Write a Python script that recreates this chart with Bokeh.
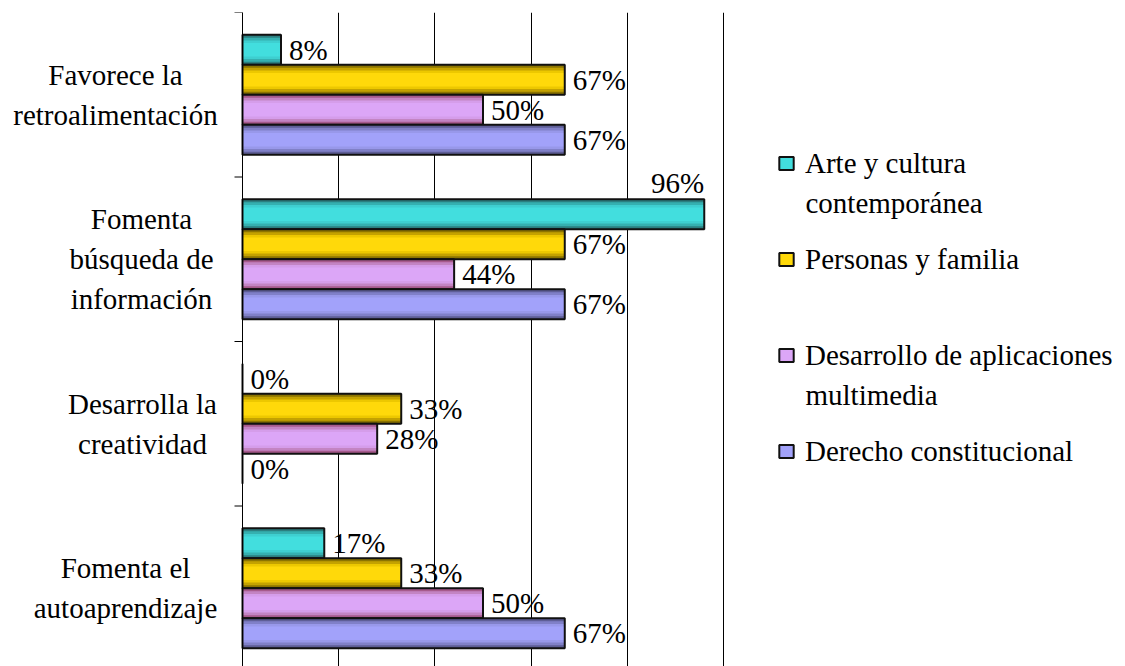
from bokeh.plotting import figure
from bokeh.models import Range1d, FixedTicker, Legend, LegendItem, ColumnDataSource, Span
from bokeh.core.properties import value
from bokeh.embed import file_html
from bokeh.resources import INLINE

# ---------------- data ----------------
categories = ["Favorece la\nretroalimentación",
              "Fomenta\nbúsqueda de\ninformación",
              "Desarrolla la\ncreatividad",
              "Fomenta el\nautoaprendizaje"]
series = ["Arte y cultura\ncontemporánea",
          "Personas y familia",
          "Desarrollo de aplicaciones\nmultimedia",
          "Derecho constitucional"]
arte = [8, 96, 0, 17]
personas = [67, 67, 33, 33]
desarrollo = [50, 44, 28, 50]
derecho = [67, 67, 0, 67]
x_ticks = [0, 20, 40, 60, 80, 100]

# ---------------- style ----------------
FONT = "'Liberation Serif', 'Times New Roman', serif"
FS = "29px"
shades = [
    ["#2B7F80", "#35B0B0", "#3ECFD0", "#42DEDE"],
    ["#8C7400", "#C4A200", "#EDC800", "#FFD90A"],
    ["#A65A8C", "#C384C3", "#D59DEA", "#DCA6F7"],
    ["#5E5E96", "#8080C8", "#9898EA", "#A2A2FA"],
]
fracs = [1.0, 0.8, 0.62, 0.45]
offsets = [-0.273, -0.091, 0.091, 0.273]
bar_h = 0.182
W, H = 1125, 666
axis_px = 242          # screen x of the value axis origin
ppu = 4.81             # pixels per percentage point
top_px = 12
band_px = 164.5
label_dx = [-127, -101, -100, -117]   # screen offset of each category label block centre
leg_x, leg_text_x = 777, 805
leg_item_px = 96
leg_first_cy = 163
leg_label_h = 36
leg_line_px = 39

x0 = -axis_px / ppu
x1 = (W - axis_px) / ppu
y_top = -0.5
y_bot = -0.5 + (H - top_px) / band_px

p = figure(width=W, height=H, x_range=Range1d(x0, x1), y_range=Range1d(y_bot, y_top),
           output_backend="svg", toolbar_location=None,
           x_axis_location=None, y_axis_location=None,
           min_border_left=0, min_border_right=0, min_border_top=top_px, min_border_bottom=0)
p.outline_line_color = None
p.background_fill_color = "white"
p.xgrid.ticker = FixedTicker(ticks=x_ticks)
p.xgrid.grid_line_color = "black"
p.xgrid.grid_line_width = 1
p.ygrid.visible = False

# category axis line and boundary ticks
p.add_layout(Span(location=0, dimension="height", line_color="black", line_width=1))
bounds = [i - 0.5 for i in range(len(categories) + 1)]
p.segment(x0=[0] * len(bounds), x1=[-8 / ppu] * len(bounds), y0=bounds, y1=bounds,
          line_color="black", line_width=1)

series_values = [arte, personas, desarrollo, derecho]
items = []
norm = dict(x=[], y=[], t=[])
over = dict(x=[], y=[], t=[])
for j, (name, vals) in enumerate(zip(series, series_values)):
    ys = [i + offsets[j] for i in range(len(categories))]
    src = ColumnDataSource(dict(y=ys, v=vals))
    last = None
    for frac, col in zip(fracs, shades[j]):
        last = p.hbar(y="y", right="v", left=0, height=bar_h * frac, fill_color=col,
                      line_color=None, source=src)
    outline = p.hbar(y="y", right="v", left=0, height=bar_h, fill_color=None,
                     line_color="#111111", line_width=2, source=src)
    items.append(LegendItem(label=name.split("\n")[0], renderers=[last, outline]))
    for yy, v in zip(ys, vals):
        if v > 88:
            over["x"].append(v); over["y"].append(yy - bar_h / 2); over["t"].append(f"{v}%")
        else:
            norm["x"].append(v); norm["y"].append(yy); norm["t"].append(f"{v}%")

p.text(x="x", y="y", text="t", source=ColumnDataSource(norm), x_offset=8,
       text_align="left", text_baseline="middle", text_color="black",
       text_font=value(FONT), text_font_size=value(FS))
p.text(x="x", y="y", text="t", source=ColumnDataSource(over), x_offset=0,
       text_align="right", text_baseline="bottom", text_color="black",
       text_font=value(FONT), text_font_size=value(FS))

cat_src = ColumnDataSource(dict(x=[0] * len(categories), y=list(range(len(categories))),
                                t=categories, dx=label_dx))
p.text(x="x", y="y", text="t", x_offset="dx", source=cat_src,
       text_align="center", text_baseline="middle", text_color="black",
       text_font=value(FONT), text_font_size=value(FS), text_line_height=1.25)

# legend: first line of each entry in the Legend, continuation lines as text
n = len(series)
leg_bottom = leg_first_cy + (n - 1) * leg_item_px + leg_label_h / 2
legend = Legend(items=items, location=(leg_x, H - leg_bottom), orientation="vertical",
                glyph_width=18, glyph_height=16, label_standoff=leg_text_x - leg_x - 18,
                label_height=leg_label_h, spacing=leg_item_px - leg_label_h,
                padding=0, margin=0, border_line_color=None, background_fill_alpha=0,
                label_text_font=FONT, label_text_font_size=FS, label_text_color="black")
p.add_layout(legend, "center")

cont = dict(x=[], y=[], t=[])
for k, name in enumerate(series):
    for m, line in enumerate(name.split("\n")[1:], start=1):
        cy = leg_first_cy + k * leg_item_px + m * leg_line_px
        cont["x"].append((leg_text_x - axis_px) / ppu)
        cont["y"].append(-0.5 + (cy - top_px) / band_px)
        cont["t"].append(line)
p.text(x="x", y="y", text="t", source=ColumnDataSource(cont),
       text_align="left", text_baseline="middle", text_color="black",
       text_font=value(FONT), text_font_size=value(FS))

open("out.html", "w").write(file_html(p, INLINE))
